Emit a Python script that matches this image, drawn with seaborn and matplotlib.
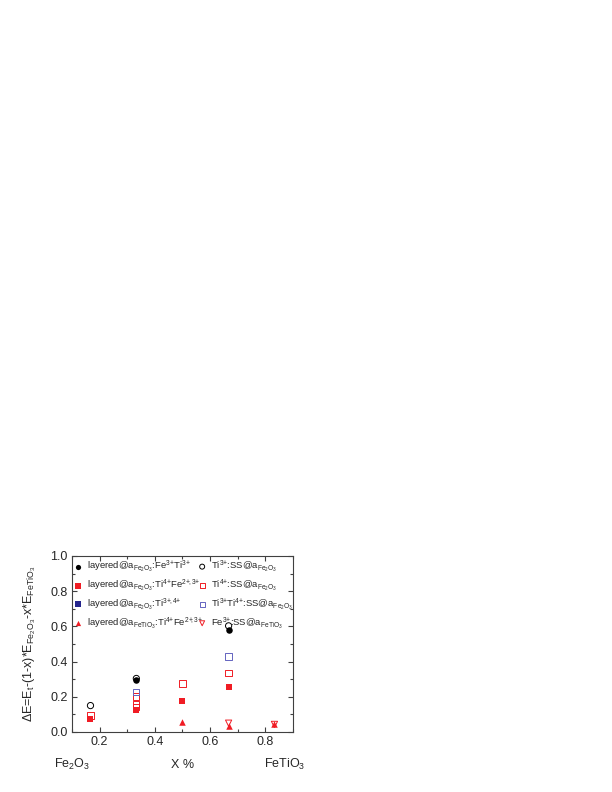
import numpy as np
import seaborn as sns
import matplotlib
matplotlib.use("Agg")
import matplotlib.pyplot as plt
from matplotlib.ticker import MultipleLocator

# data
x_layered_fe3ti3 = [0.333, 0.667]
y_layered_fe3ti3 = [0.293, 0.581]

x_layered_ti4fe = [0.167, 0.333, 0.5, 0.667]
y_layered_ti4fe = [0.074, 0.123, 0.175, 0.255]

x_layered_ti34 = []
y_layered_ti34 = []

x_fetio3_ti4fe = [0.5, 0.667, 0.833]
y_fetio3_ti4fe = [0.056, 0.035, 0.046]

x_ss_ti3 = [0.167, 0.333, 0.667]
y_ss_ti3 = [0.150, 0.304, 0.603]

x_ss_ti4 = [0.167, 0.333, 0.333, 0.333, 0.5, 0.667]
y_ss_ti4 = [0.093, 0.201, 0.158, 0.140, 0.276, 0.333]

x_ss_ti3ti4 = [0.333, 0.667]
y_ss_ti3ti4 = [0.229, 0.429]

x_ss_fe3 = [0.667, 0.833]
y_ss_fe3 = [0.050, 0.043]

# {+} keeps mathtext from spacing the plus signs like operators
labels = [
    r"layered@a$_{Fe_2O_3}$:Fe$^{3{+}}$Ti$^{3{+}}$",
    r"layered@a$_{Fe_2O_3}$:Ti$^{4{+}}$Fe$^{2{+}\!,3{+}}$",
    r"layered@a$_{Fe_2O_3}$:Ti$^{3{+}\!,4{+}}$",
    r"layered@a$_{FeTiO_3}$:Ti$^{4{+}}$Fe$^{2{+}\!,3{+}}$",
    r"Ti$^{3{+}}$:SS@a$_{Fe_2O_3}$",
    r"Ti$^{4{+}}$:SS@a$_{Fe_2O_3}$",
    r"Ti$^{3{+}}$Ti$^{4{+}}$:SS@a$_{Fe_2O_3}$",
    r"Fe$^{3{+}}$:SS@a$_{FeTiO_3}$",
]

sns.set_style("ticks")
plt.rcParams["font.family"] = ["Liberation Sans", "DejaVu Sans"]
plt.rcParams["mathtext.fontset"] = "custom"
plt.rcParams["mathtext.rm"] = "Liberation Sans"
plt.rcParams["mathtext.it"] = "Liberation Sans"
plt.rcParams["mathtext.bf"] = "Liberation Sans:bold"

red = "#f01c24"
navy = "#24248c"
light_navy = "#6464c0"

# (x, y, marker, filled, colour)
series = [
    (x_layered_fe3ti3, y_layered_fe3ti3, "o", True, "black"),
    (x_layered_ti4fe, y_layered_ti4fe, "s", True, red),
    (x_layered_ti34, y_layered_ti34, "s", True, navy),
    (x_fetio3_ti4fe, y_fetio3_ti4fe, "^", True, red),
    (x_ss_ti3, y_ss_ti3, "o", False, "black"),
    (x_ss_ti4, y_ss_ti4, "s", False, red),
    (x_ss_ti3ti4, y_ss_ti3ti4, "s", False, light_navy),
    (x_ss_fe3, y_ss_fe3, "v", False, red),
]

fig = plt.figure(figsize=(6.12, 7.92), dpi=100)
ax = fig.add_axes([0.1176, 0.0758, 0.3611, 0.2222])

handles = []
for (xs, ys, mk, filled, col), lab in zip(series, labels):
    fc = col if filled else "none"
    lw = 0 if filled else 0.7
    size = 22 if filled else 20
    if len(xs) == 0:
        h = ax.scatter([], [], marker=mk, s=size, facecolor=fc, edgecolor=col,
                       linewidth=lw, label=lab)
    else:
        sns.scatterplot(x=xs, y=ys, marker=mk, s=size, color=col, facecolor=fc,
                        edgecolor=col, linewidth=lw, label=lab, ax=ax, legend=False)
        h = ax.collections[-1]
    handles.append(h)

ax.set_xlim(0.1, 0.9)
ax.set_ylim(0.0, 1.0)
ax.xaxis.set_major_locator(MultipleLocator(0.2))
ax.xaxis.set_minor_locator(MultipleLocator(0.1))
ax.yaxis.set_major_locator(MultipleLocator(0.2))
ax.yaxis.set_minor_locator(MultipleLocator(0.1))
ax.tick_params(which="both", direction="in", top=True, right=True,
               color="#404040", labelsize=9, width=0.8)
ax.tick_params(which="major", length=3.5, pad=3)
ax.tick_params(which="minor", length=2)
for sp in ax.spines.values():
    sp.set_visible(True)
    sp.set_color("#404040")
    sp.set_linewidth(0.8)

ax.set_ylabel(r"$\Delta$E=E$_t$-(1-x)*E$_{Fe_2O_3}$-x*E$_{FeTiO_3}$", fontsize=9)
ax.yaxis.set_label_coords(-0.154, 0.5)

ax.text(0.0, -0.205, r"Fe$_2$O$_3$", transform=ax.transAxes, ha="center",
        va="baseline", fontsize=9)
ax.text(0.5, -0.205, "X %", transform=ax.transAxes, ha="center",
        va="baseline", fontsize=9)
ax.text(0.964, -0.205, r"FeTiO$_3$", transform=ax.transAxes, ha="center",
        va="baseline", fontsize=9)

# two legend columns placed separately
leg_kw = dict(loc="upper left", frameon=False, fontsize=6.8, borderpad=0,
              handlelength=0.8, handletextpad=0.55, labelspacing=0.32,
              scatterpoints=1, borderaxespad=0, markerscale=0.8)
leg1 = ax.legend(handles=handles[:4], labels=labels[:4],
                 bbox_to_anchor=(0.012, 0.985), **leg_kw)
ax.add_artist(leg1)
ax.legend(handles=handles[4:], labels=labels[4:],
          bbox_to_anchor=(0.572, 0.985), **leg_kw)

fig.savefig("out.png", dpi=100)
